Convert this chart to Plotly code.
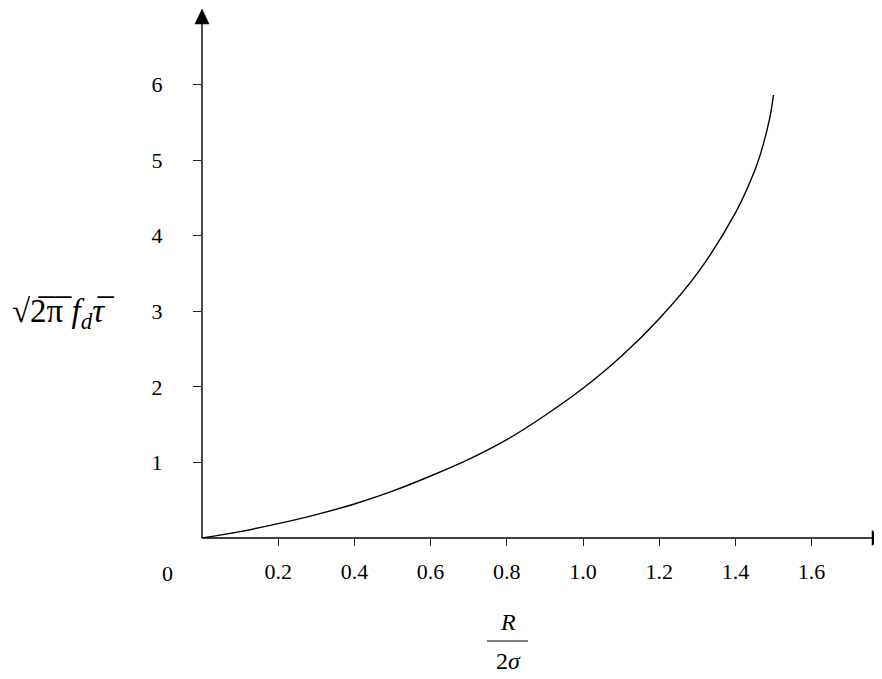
import plotly.graph_objects as go

# Data
ratio = [0.0, 0.1, 0.2, 0.3, 0.4, 0.5, 0.6, 0.7, 0.8, 0.9, 1.0, 1.1, 1.2, 1.3, 1.4, 1.45, 1.47, 1.49, 1.5]
value = [0.0, 0.085, 0.19, 0.31, 0.45, 0.62, 0.82, 1.04, 1.30, 1.62, 1.98, 2.40, 2.90, 3.50, 4.30, 4.85, 5.15, 5.55, 5.86]

x_tickvals = [0.2, 0.4, 0.6, 0.8, 1.0, 1.2, 1.4, 1.6]
x_ticktext = ["0.2", "0.4", "0.6", "0.8", "1.0", "1.2", "1.4", "1.6"]
y_tickvals = [1, 2, 3, 4, 5, 6]
y_ticktext = ["1", "2", "3", "4", "5", "6"]

SERIF = "Liberation Serif, Times New Roman, serif"

fig = go.Figure()
fig.add_trace(go.Scatter(x=ratio, y=value, mode="lines",
                         line=dict(color="black", width=1.4, shape="spline", smoothing=1.0),
                         hoverinfo="skip", showlegend=False))

# page body has an 8px default margin, compensate for it
OFF = 8
W, H = 882 - OFF, 679 - OFF
L, R, T, B = 202 - OFF, 0, 10 - OFF, 141
pw, ph = W - L - R, H - T - B


def px(xabs):
    return (xabs - 202) / pw


def py(yabs):
    return (538 - yabs) / ph


fig.update_layout(
    width=W, height=H,
    margin=dict(l=L, r=R, t=T, b=B, pad=0),
    paper_bgcolor="white", plot_bgcolor="white",
    showlegend=False,
    xaxis=dict(range=[0, pw / 381.0], showgrid=False, zeroline=False, showline=False,
               tickmode="array", tickvals=x_tickvals, ticktext=x_ticktext,
               ticks="outside", ticklen=7, tickwidth=1, tickcolor="#222",
               tickfont=dict(family=SERIF, size=22, color="black"),
               ticklabelstandoff=7, fixedrange=True),
    yaxis=dict(range=[0, ph / 75.6], showgrid=False, zeroline=False, showline=False,
               tickmode="array", tickvals=y_tickvals, ticktext=y_ticktext,
               ticks="outside", ticklen=8, tickwidth=1, tickcolor="#222",
               tickfont=dict(family=SERIF, size=22, color="black"),
               ticklabelstandoff=26, fixedrange=True),
)

# axis lines with arrowheads (paper coordinates)
fig.add_shape(type="line", xref="paper", yref="paper", x0=0, y0=0, x1=px(873), y1=0,
              line=dict(color="black", width=1.4))
fig.add_shape(type="path", xref="paper", yref="paper",
              path=f"M {px(882)},0 L {px(872)},{7.5/ph} L {px(872)},{-7.5/ph} Z",
              fillcolor="black", line=dict(color="black", width=0.5))
fig.add_shape(type="line", xref="paper", yref="paper", x0=0, y0=0, x1=0, y1=py(22),
              line=dict(color="black", width=1.4))
fig.add_shape(type="path", xref="paper", yref="paper",
              path=f"M 0,{py(9)} L {-7/pw},{py(24)} L {7/pw},{py(24)} Z",
              fillcolor="black", line=dict(color="black", width=0.5))

# origin label
fig.add_annotation(x=0, y=0, xref="x", yref="y", text="0", showarrow=False,
                   xanchor="center", yanchor="middle", xshift=-35, yshift=-35,
                   font=dict(family=SERIF, size=22, color="black"))

# y-axis title
fig.add_annotation(x=px(63), y=py(313), xref="paper", yref="paper",
                   text="√2̅π̅ <i>f</i><sub><i>d</i></sub><i>τ̅</i>", showarrow=False,
                   xanchor="center", yanchor="middle",
                   font=dict(family=SERIF, size=33, color="black"))

# x-axis title as a fraction R / 2σ
fig.add_annotation(x=px(508), y=py(622), xref="paper", yref="paper",
                   text="<i>R</i>", showarrow=False, xanchor="center", yanchor="middle",
                   font=dict(family=SERIF, size=24, color="black"))
fig.add_shape(type="line", xref="paper", yref="paper",
              x0=px(487), x1=px(528), y0=py(641), y1=py(641),
              line=dict(color="black", width=1.2))
fig.add_annotation(x=px(508), y=py(661), xref="paper", yref="paper",
                   text="2<i>σ</i>", showarrow=False, xanchor="center", yanchor="middle",
                   font=dict(family=SERIF, size=24, color="black"))

fig.write_html("out.html")
